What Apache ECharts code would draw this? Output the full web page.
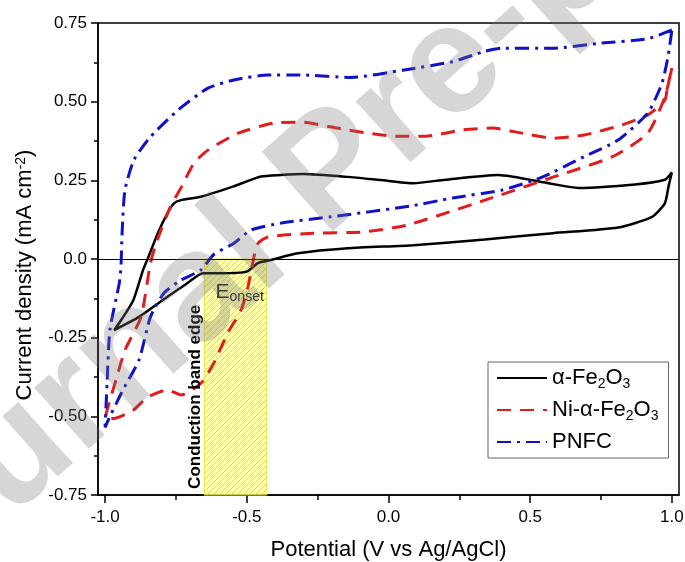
<!DOCTYPE html>
<html>
<head>
<meta charset="utf-8">
<script src="https://cdn.jsdelivr.net/npm/echarts@6/dist/echarts.min.js"></script>
<style>
  html, body { margin: 0; padding: 0; background: #fff; }
  #main { width: 685px; height: 562px; }
</style>
</head>
<body>
<div id="main"></div>
<script>
// 电位 (V vs Ag/AgCl) 与电流密度 (mA cm-2), 按扫描顺序读取
var feE = [1.0, 0.975, 0.87, 0.67, 0.57, 0.387, 0.2, 0.088, -0.028, -0.144, -0.3, -0.38, -0.45, -0.55, -0.662, -0.732, -0.757, -0.78, -0.814, -0.85, -0.866, -0.90, -0.94, -0.968,
           -0.88, -0.78, -0.71, -0.655, -0.6, -0.5, -0.46, -0.415, -0.32, -0.144, 0.088, 0.34, 0.58, 0.81, 0.93, 0.975, 0.988, 1.0];
var feJ = [0.276, 0.252, 0.237, 0.226, 0.24, 0.267, 0.252, 0.241, 0.251, 0.261, 0.27, 0.267, 0.262, 0.23, 0.198, 0.187, 0.177, 0.146, 0.082, 0.0, -0.035, -0.13, -0.19, -0.226,
           -0.184, -0.12, -0.077, -0.045, -0.045, -0.04, -0.012, -0.003, 0.018, 0.034, 0.044, 0.062, 0.082, 0.10, 0.134, 0.177, 0.23, 0.276];

var niE = [1.0, 0.985, 0.975, 0.915, 0.824, 0.69, 0.58, 0.47, 0.366, 0.26, 0.13, 0.025, -0.074, -0.18, -0.31, -0.405, -0.53, -0.637, -0.686, -0.73, -0.77, -0.816, -0.84, -0.873, -0.93, -0.965, -0.99, -1.0, -0.97,
           -0.9, -0.852, -0.78, -0.732, -0.662, -0.616, -0.567, -0.52, -0.496, -0.475, -0.46, -0.426, -0.264, -0.088, 0.067, 0.34, 0.58, 0.79, 0.915, 0.975, 1.0];
var niJ = [0.607, 0.55, 0.505, 0.458, 0.426, 0.394, 0.384, 0.40, 0.416, 0.41, 0.39, 0.39, 0.40, 0.416, 0.435, 0.432, 0.40, 0.346, 0.305, 0.23, 0.165, 0.06, -0.013, -0.184, -0.29, -0.395, -0.47, -0.507, -0.507,
           -0.48, -0.44, -0.416, -0.432, -0.395, -0.33, -0.235, -0.162, -0.089, 0.006, 0.05, 0.07, 0.082, 0.086, 0.108, 0.187, 0.26, 0.325, 0.40, 0.515, 0.607];

var pnE = [1.0, 0.915, 0.75, 0.58, 0.40, 0.34, 0.225, 0.05, -0.13, -0.31, -0.426, -0.545, -0.637, -0.743, -0.84, -0.898, -0.93, -0.94, -0.944, -0.95, -0.983, -0.993, -1.0,
           -0.983, -0.96, -0.937, -0.88, -0.84, -0.792, -0.732, -0.662, -0.616, -0.545, -0.486, -0.38, -0.204, 0.077, 0.225, 0.40, 0.542, 0.69, 0.81, 0.915, 0.965, 0.986, 1.0];
var pnJ = [0.728, 0.70, 0.686, 0.67, 0.67, 0.66, 0.627, 0.60, 0.577, 0.585, 0.585, 0.569, 0.543, 0.473, 0.388, 0.315, 0.219, 0.082, -0.025, -0.077, -0.226, -0.395, -0.535,
           -0.50, -0.458, -0.416, -0.32, -0.184, -0.108, -0.067, -0.035, 0.015, 0.05, 0.092, 0.114, 0.134, 0.168, 0.194, 0.219, 0.26, 0.325, 0.378, 0.464, 0.559, 0.642, 0.728];

var seriesNames = ['α-Fe2O3', 'Ni-α-Fe2O3', 'PNFC'];
var xMajor = [-1.0, -0.5, 0.0, 0.5, 1.0];
var xMinor = [-0.75, -0.25, 0.25, 0.75];
var bandEdge = [-0.65, -0.43];   // 导带边区域

function zip(a, b) {
    var out = [];
    for (var i = 0; i < a.length; i++) out.push([a[i], b[i]]);
    return out;
}

// 黄色斜线填充
function hatch() {
    var c = document.createElement('canvas');
    c.width = 6;
    c.height = 6;
    var g = c.getContext('2d');
    g.fillStyle = 'rgba(255,255,110,0.6)';
    g.fillRect(0, 0, 6, 6);
    g.strokeStyle = 'rgba(200,200,70,0.7)';
    g.lineWidth = 1;
    g.beginPath();
    g.moveTo(0, 6); g.lineTo(6, 0);
    g.moveTo(-3, 3); g.lineTo(3, -3);
    g.moveTo(3, 9); g.lineTo(9, 3);
    g.stroke();
    return c;
}

var chart = echarts.init(document.getElementById('main'), null, { renderer: 'canvas' });

var FONT = 'Liberation Sans';

var option = {
    backgroundColor: '#ffffff',
    animation: false,
    textStyle: { fontFamily: FONT, color: '#000' },
    grid: {
        left: 98, right: 6, top: 23, bottom: 67,
        outerBoundsMode: 'none',
        containLabel: false,
        show: true, borderColor: '#000', borderWidth: 1.5
    },
    legend: {
        orient: 'vertical',
        left: 488, top: 362,
        data: seriesNames,
        itemWidth: 50,
        itemHeight: 14,
        itemGap: 8,
        padding: [5, 10, 5, 8],
        borderColor: '#666',
        borderWidth: 1,
        itemStyle: { color: 'rgba(0,0,0,0)', borderWidth: 0 },
        formatter: function (name) {
            if (name === 'PNFC') return '{n|PNFC}';
            var pre = name.replace('Fe2O3', '');
            return '{n|' + pre + 'Fe}{s|2}{n|O}{s|3}';
        },
        textStyle: {
            fontFamily: FONT,
            rich: {
                n: { fontSize: 22, lineHeight: 26, fontFamily: FONT, color: '#000' },
                s: { fontSize: 14, lineHeight: 14, verticalAlign: 'bottom', fontFamily: FONT, color: '#000' }
            }
        }
    },
    xAxis: [{
        type: 'value',
        min: -1.025, max: 1.025,
        position: 'bottom',
        name: 'Potential (V vs Ag/AgCl)',
        nameLocation: 'middle',
        nameGap: 44,
        nameTextStyle: { fontSize: 22, fontFamily: FONT, color: '#000' },
        axisLine: { onZero: false, lineStyle: { color: '#000', width: 1.5 } },
        axisTick: { length: 8, lineStyle: { width: 1.5 }, customValues: xMajor },
        axisLabel: {
            customValues: xMajor, fontSize: 17, margin: 14, color: '#000', fontFamily: FONT,
            formatter: function (v) { return v.toFixed(1); }
        },
        splitLine: { show: false }
    }, {
        type: 'value',
        min: -1.025, max: 1.025,
        position: 'bottom',
        axisLine: { show: false, onZero: false },
        axisTick: { length: 5, lineStyle: { color: '#000', width: 1.5 }, customValues: xMinor },
        axisLabel: { show: false },
        splitLine: { show: false }
    }],
    yAxis: {
        type: 'value',
        min: -0.75, max: 0.75, interval: 0.25,
        name: 'Current density (mA cm{sup|-2})',
        nameLocation: 'middle',
        nameGap: 62,
        nameTextStyle: {
            fontSize: 22, fontFamily: FONT, color: '#000',
            padding: [0, 32, 0, 0],
            rich: { sup: { fontSize: 14, lineHeight: 14, verticalAlign: 'top', fontFamily: FONT, color: '#000' } }
        },
        axisLine: { onZero: false, lineStyle: { color: '#000', width: 1.5 } },
        axisTick: { length: 7, lineStyle: { width: 1.5 } },
        minorTick: { show: true, splitNumber: 2, length: 4, lineStyle: { color: '#000', width: 1.5 } },
        axisLabel: {
            fontSize: 17, margin: 11, color: '#000', fontFamily: FONT,
            formatter: function (v) { return v === 0 ? '0.0' : v.toFixed(2); }
        },
        splitLine: { show: false }
    },
    series: [{
        name: seriesNames[0],
        type: 'line',
        data: zip(feE, feJ),
        symbol: 'none',
        smooth: 0.2,
        lineStyle: { color: '#000', width: 2.5 },
        itemStyle: { color: '#000' }
    }, {
        name: seriesNames[1],
        type: 'line',
        data: zip(niE, niJ),
        symbol: 'none',
        smooth: 0.2,
        lineStyle: { color: '#e41b1b', width: 3, type: [14, 9] },
        itemStyle: { color: '#e41b1b' }
    }, {
        name: seriesNames[2],
        type: 'line',
        data: zip(pnE, pnJ),
        symbol: 'none',
        smooth: 0.2,
        lineStyle: { color: '#1010c8', width: 3, type: [14, 6, 3, 6] },
        itemStyle: { color: '#1010c8' }
    }, {
        // 标注层: 零线、导带边区域、文字
        name: 'anno',
        type: 'line',
        data: [],
        z: 5,
        silent: true,
        markLine: {
            symbol: 'none',
            silent: true,
            label: { show: false },
            lineStyle: { color: '#000', width: 1.2, type: 'solid' },
            data: [{ yAxis: 0 }]
        },
        markArea: {
            silent: true,
            itemStyle: {
                color: { image: hatch(), repeat: 'repeat' },
                borderColor: '#e8e830',
                borderWidth: 1
            },
            data: [[{ xAxis: bandEdge[0], yAxis: -0.75 }, { xAxis: bandEdge[1], yAxis: 0 }]]
        },
        markPoint: {
            silent: true,
            symbol: 'circle',
            symbolSize: 0,
            data: [{
                coord: [-0.68, -0.438],
                label: {
                    show: true, position: 'inside', rotate: 90,
                    formatter: 'Conduction band edge',
                    fontSize: 17, fontWeight: 'bold', color: '#000', fontFamily: FONT
                }
            }, {
                coord: [-0.525, -0.105],
                label: {
                    show: true, position: 'inside',
                    formatter: '{e|E}{s|onset}',
                    rich: {
                        e: { fontSize: 21, lineHeight: 24, color: '#222', fontFamily: FONT },
                        s: { fontSize: 14, lineHeight: 14, verticalAlign: 'bottom', color: '#222', fontFamily: FONT }
                    }
                }
            }]
        }
    }],
    graphic: [{
        type: 'text',
        z: 100,
        silent: true,
        x: 332, y: 175,
        rotation: 41.7 * Math.PI / 180,
        style: {
            text: 'Journal Pre-proof',
            font: 'bold 155px "Liberation Sans"',
            fill: 'rgba(120,120,120,0.3)',
            textAlign: 'center',
            textVerticalAlign: 'middle'
        }
    }]
};

chart.setOption(option);
</script>
</body>
</html>
